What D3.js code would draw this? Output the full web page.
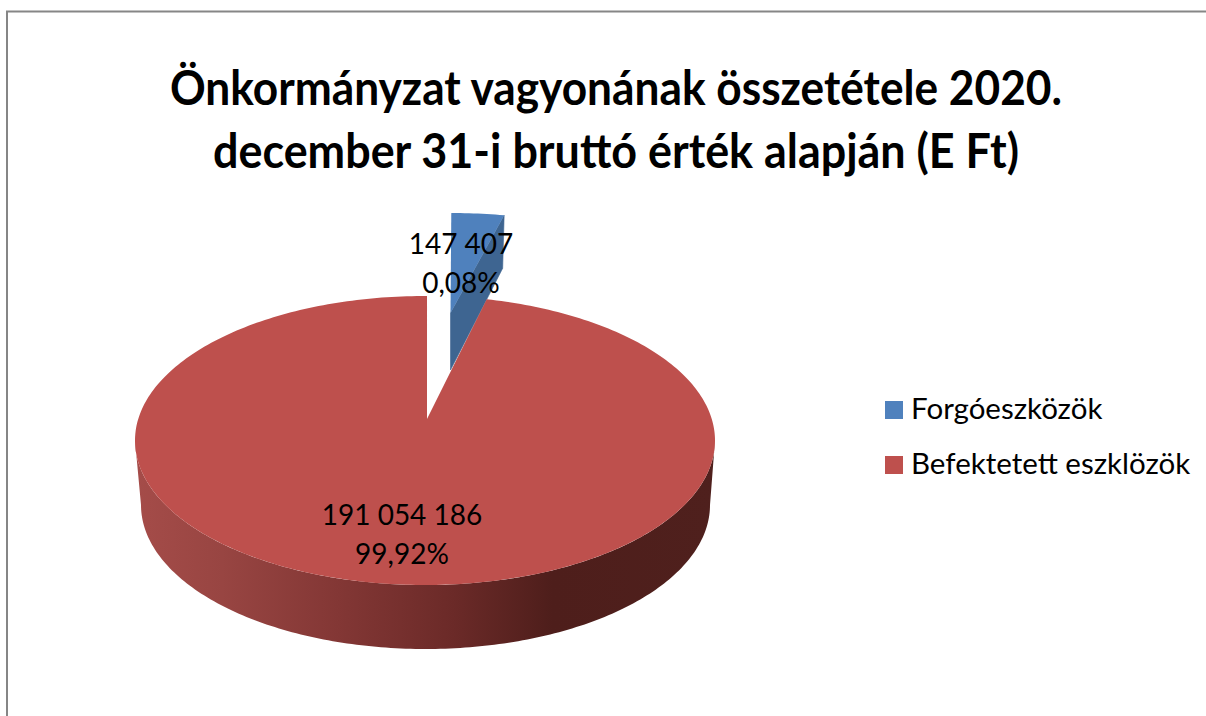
<!doctype html>
<html lang="en">
<head>
    <title></title>
    <script src="https://d3js.org/d3.v7.min.js"></script>
    <style type="text/css">
        html, body { margin:0; padding:0; background:#fff; overflow:hidden; }
        svg { display:block; font-family:Lato, "Open Sans", sans-serif; }
    </style>
</head>

<body>
</body>

<script type="text/javascript">

    var titleLines = ["Önkormányzat vagyonának összetétele 2020.",
                      "december 31-i bruttó érték alapján (E Ft)"];
    var categories = ["Forgóeszközök", "Befektetett eszklözök"];
    var amounts    = ["147 407", "191 054 186"];
    var percents   = ["0,08%", "99,92%"];
    // the slice sizes as they look in the picture, the wedge is drawn far bigger than its 0,08%
    var drawnShare = [3.3, 96.7];
    var topColors  = ["#4f81bd", "#be504d"];

    var pixel_width  = 1206;
    var pixel_height = 716;
    var rad = Math.PI / 180;

    var svg = d3.select("body")
                .append("svg")
                .attr("width", pixel_width)
                .attr("height", pixel_height);

    // frame runs off the right and bottom of the picture
    svg.append("path")
       .attr("d", "M7,716V11.5H1206")
       .attr("fill", "none")
       .attr("stroke", "#868686")
       .attr("stroke-width", 2);

    var slices = d3.pie().sort(null)
                   .startAngle(0.4 * rad)
                   .endAngle((360.4) * rad)(drawnShare);

    // ellipse point for an angle measured clockwise from 12 o'clock
    function onEllipse(e, a) {
        return [e.cx + e.rx * Math.sin(a), e.cy - e.ry * Math.cos(a)];
    }
    function angles(a0, a1) {
        var n = Math.ceil(Math.abs(a1 - a0) / (1 * rad));
        return d3.range(n + 1).map((i)=>a0 + (a1 - a0) * i / n);
    }
    var line = d3.line();

    var redTop    = {cx:425, cy:440.5, rx:290, ry:144.5};
    var redBottom = {cx:425.5, cy:505, rx:284.5, ry:144};
    var redApex   = [427, 419];

    var blueTop   = {cx:449.5, cy:313, rx:257, ry:100};
    var blueDepth = {cx:449.5, cy:366, rx:250, ry:100};

    // defs
    var defs = svg.append("defs");
    var wallGrad = defs.append("linearGradient")
                       .attr("id", "wall")
                       .attr("gradientUnits", "userSpaceOnUse")
                       .attr("x1", 135).attr("x2", 715)
                       .attr("y1", 0).attr("y2", 0);
    [[0, "#a54c49"], [0.15, "#984542"], [0.35, "#833735"], [0.55, "#6b2a28"], [0.72, "#4e1e1b"], [1, "#4f201d"]]
        .forEach((s)=>wallGrad.append("stop").attr("offset", s[0]).attr("stop-color", s[1]));

    // blue wedge, behind the red slice
    var blue = slices[0];
    var blueRight = onEllipse(blueTop, blue.endAngle);
    var blueRightLow = onEllipse(blueDepth, blue.endAngle);
    svg.append("path")
       .attr("d", line([[blueTop.cx + 1, blueTop.cy], blueRight, blueRightLow, [blueTop.cx + 1, blueDepth.cy + 4]]) + "Z")
       .attr("fill", "#3e6591")
       .attr("stroke", "#3e6591")
       .attr("stroke-width", 0.6);
    svg.append("path")
       .attr("d", line([[blueTop.cx + 1, blueTop.cy]].concat(angles(blue.startAngle, blue.endAngle).map((a)=>onEllipse(blueTop, a)))) + "Z")
       .attr("fill", topColors[0]);

    // red side wall, front half of the ellipses
    var wall = d3.area()
                 .x0((a)=>onEllipse(redTop, a)[0])
                 .y0((a)=>onEllipse(redTop, a)[1])
                 .x1((a)=>onEllipse(redBottom, a)[0])
                 .y1((a)=>onEllipse(redBottom, a)[1]);
    svg.append("path")
       .attr("d", wall(angles(90 * rad, 270 * rad)))
       .attr("fill", "url(#wall)");

    // red top face
    var red = slices[1];
    svg.append("path")
       .attr("d", line([redApex].concat(angles(red.startAngle, red.endAngle).map((a)=>onEllipse(redTop, a)))) + "Z")
       .attr("fill", topColors[1]);

    // title, squeezed a bit because Lato runs wider than the original face
    var titleWidth = [892, 806];
    svg.selectAll("text.title").data(titleLines).enter().append("text")
       .attr("class", "title")
       .text((d)=>d)
       .attr("x", 616)
       .attr("y", (d, i)=>105 + i * 63)
       .attr("text-anchor", "middle")
       .attr("textLength", (d, i)=>titleWidth[i])
       .attr("lengthAdjust", "spacingAndGlyphs")
       .style("font-size", "47px")
       .style("font-weight", 700)
       .style("fill", "#000");

    // data labels
    var labelPos = [{x:461, y:254, dy:39}, {x:402, y:525, dy:39}];
    categories.forEach(function(c, i) {
        [amounts[i], percents[i]].forEach(function(t, j) {
            svg.append("text")
               .text(t)
               .attr("x", labelPos[i].x)
               .attr("y", labelPos[i].y + j * labelPos[i].dy)
               .attr("text-anchor", "middle")
               .style("font-size", "28px")
               .style("fill", "#000");
        });
    });

    // legend
    var legend = svg.selectAll("g.legend").data(categories).enter().append("g")
                    .attr("class", "legend")
                    .attr("transform", (d, i)=>"translate(885," + (401 + i * 55) + ")");
    legend.append("rect")
          .attr("width", 18).attr("height", 18)
          .attr("fill", (d, i)=>topColors[i]);
    legend.append("text")
          .text((d)=>d)
          .attr("x", 26)
          .attr("y", 18)
          .style("font-size", "29.5px")
          .style("fill", "#000");

</script>

</html>
